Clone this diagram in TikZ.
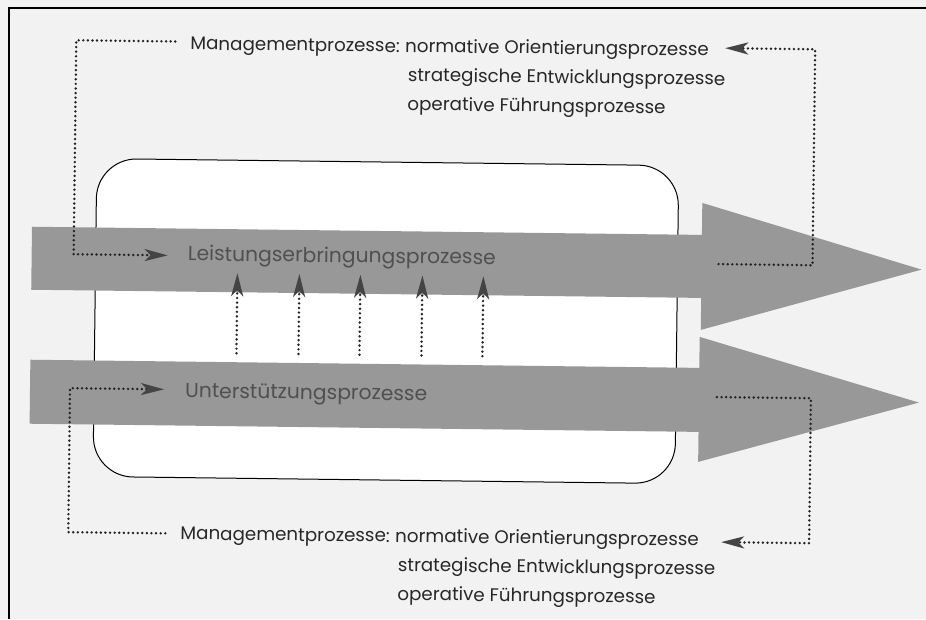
\documentclass[tikz,border=0pt]{standalone}
\usepackage{fontspec}
\setmainfont{Poppins}
\usetikzlibrary{arrows.meta}
\definecolor{paper}{RGB}{242,242,242}
\definecolor{flow}{RGB}{152,152,152}
\definecolor{ink}{RGB}{40,40,40}
\definecolor{inkflow}{RGB}{80,80,80}
\definecolor{tipgray}{RGB}{68,68,68}
\definecolor{dotgray}{RGB}{35,35,35}
\begin{document}
\begin{tikzpicture}[x=1pt,y=-1pt,
  txt/.style={font=\fontsize{18.3}{18.3}\selectfont, text=ink, inner sep=0pt, anchor=base west},
  flowtxt/.style={txt, font=\fontsize{20.3}{20.3}\selectfont, text=inkflow},
  flowarrow/.style={fill=flow, draw=none},
  frame/.style={draw=black, line width=2.2pt},
  stage/.style={draw=black, line width=1pt, fill=white, rounded corners=40pt},
  dotline/.style={draw=dotgray, line width=2.7pt, line cap=round,
    dash pattern=on 0pt off 4.6pt,
    -{Stealth[length=23pt,width=12pt,inset=6pt,color=tipgray]}}]

% page area and outer frame
\useasboundingbox (0,0) rectangle (926,619);
\fill[paper] (0,0) rectangle (926,619);
\draw[frame] (9,619) -- (9,8) -- (926,8);

\begin{scope}[rotate around={-0.7:(463,310)}, transform shape]
  % rounded stage behind the two process arrows
  \draw[stage] (95,163) rectangle (677,481);

  % the two broad process arrows
  \fill[flowarrow] (31,232) -- (701,232) -- (701,200) -- (921,264)
                   -- (701,327) -- (701,295) -- (31,295) -- cycle;
  \fill[flowarrow] (31,365) -- (700,365) -- (700,334) -- (920,397)
                   -- (700,459) -- (700,429) -- (31,429) -- cycle;

  % labels: management processes above
  \node[txt] (mtop) at (187,53) {Managementprozesse:};
  \node[txt] (mtopA) at ([xshift=5pt]mtop.base east) {normative Orientierungsprozesse};
  \node[txt] (mtopB) at ([xshift=3pt,yshift=-29pt]mtopA.base west) {strategische Entwicklungsprozesse};
  \node[txt] (mtopC) at ([yshift=-29pt]mtopB.base west) {operative Führungsprozesse};

  % labels on the process arrows
  \node[flowtxt] (leist) at (187,264) {Leistungserbringungsprozesse};
  \node[flowtxt] (unter) at (186,401) {Unterstützungsprozesse};

  % labels: management processes below
  \node[txt] (mbot) at (183,543) {Managementprozesse:};
  \node[txt] (mbotA) at ([xshift=5pt]mbot.base east) {normative Orientierungsprozesse};
  \node[txt] (mbotB) at ([xshift=3pt,yshift=-29pt]mbotA.base west) {strategische Entwicklungsprozesse};
  \node[txt] (mbotC) at ([yshift=-29pt]mbotB.base west) {operative Führungsprozesse};

  % corner points of the dotted feedback loops
  \coordinate (tlA) at (172,45);
  \coordinate (tlB) at (73,45);
  \coordinate (tlC) at (73,259);
  \coordinate (tlD) at (167,259);

  \coordinate (trA) at (718,261);
  \coordinate (trB) at (812,261);
  \coordinate (trC) at (812,45);
  \coordinate (trD) at (722,45);

  \coordinate (blA) at (168,537);
  \coordinate (blB) at (71,537);
  \coordinate (blC) at (71,393);
  \coordinate (blD) at (165,393);

  \coordinate (brA) at (718,394);
  \coordinate (brB) at (812,394);
  \coordinate (brC) at (812,539);
  \coordinate (brD) at (724,539);

  \draw[dotline] (tlA) -- (tlB) -- (tlC) -- (tlD);
  \draw[dotline] (trA) -- (trB) -- (trC) -- (trD);
  \draw[dotline] (blA) -- (blB) -- (blC) -- (blD);
  \draw[dotline] (brA) -- (brB) -- (brC) -- (brD);

  % support feeding into service delivery
  \foreach \i/\x in {1/237,2/299,3/360,4/422,5/483}{
    \coordinate (up\i s) at (\x,356);
    \coordinate (up\i e) at (\x,276);
    \draw[dotline] (up\i s) -- (up\i e);
  }
\end{scope}
\end{tikzpicture}
\end{document}
